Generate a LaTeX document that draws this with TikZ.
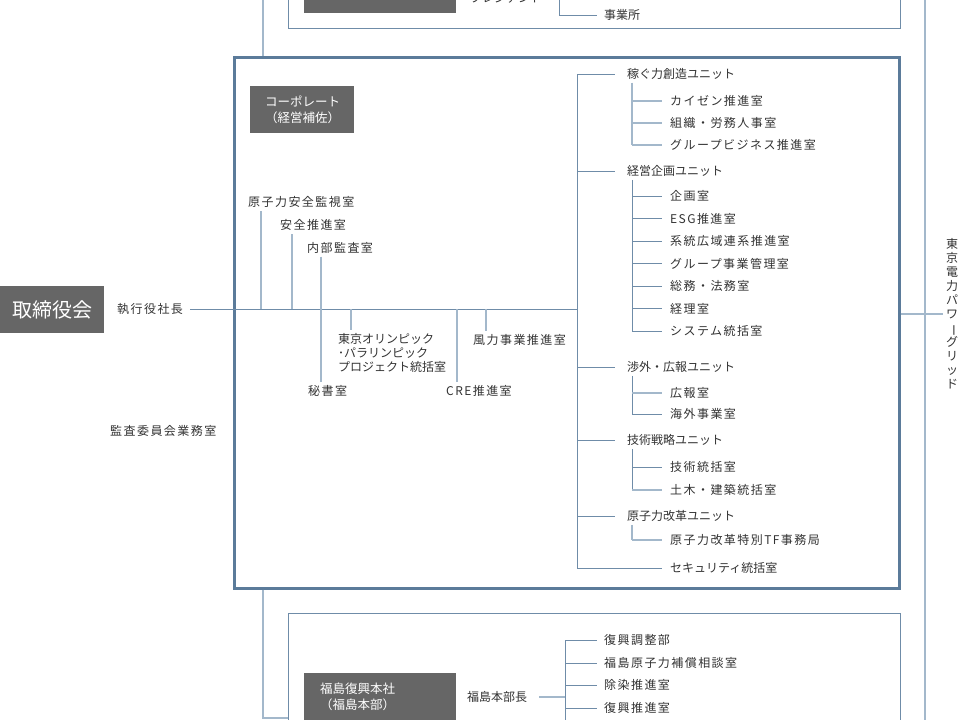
\documentclass[tikz,border=0pt]{standalone}
\usepackage{fontspec}
\setmainfont{Noto Sans CJK JP}
\usetikzlibrary{positioning,calc}
\definecolor{frameblue}{HTML}{5B7B9A}
\definecolor{lineblue}{HTML}{6F8CA8}
\definecolor{lightblue}{HTML}{A3B8CB}
\definecolor{darkbox}{HTML}{666666}
\definecolor{textgray}{HTML}{333333}
\tikzset{
  headbox/.style={fill=darkbox, text=white, align=left, inner xsep=16pt, inner ysep=0pt, text width=120pt, anchor=north west, font=\fontsize{12.5}{16}\selectfont},
  boardbox/.style={fill=darkbox, text=white, inner sep=0pt, minimum width=104pt, minimum height=47pt, anchor=north west, font=\fontsize{20}{24}\selectfont},
  lbl/.style={anchor=west, inner xsep=0pt, inner ysep=3pt, text=textgray, font=\fontsize{12}{14}\selectfont\addfontfeatures{LetterSpace=12}},
  lblk/.style={anchor=west, inner xsep=0pt, inner ysep=3pt, text=textgray, font=\fontsize{12}{14}\selectfont},
  conn/.style={draw=lineblue, line width=1pt},
  connlight/.style={draw=lightblue, line width=1.2pt},
  bigframe/.style={draw=frameblue, line width=2.6pt, inner sep=0pt},
  thinframe/.style={draw=lineblue, line width=1pt, inner sep=0pt}
}

\begin{document}
\begin{tikzpicture}[x=1pt,y=-1pt]
  \useasboundingbox[fill=white] (0,0) rectangle (980,720);
  \clip (0,0) rectangle (980,720);

  % frames
  \node[thinframe, anchor=south west, minimum width=612pt, minimum height=120pt] (pcframe) at (288,29) {};
  \node[bigframe, anchor=north west, minimum width=665pt, minimum height=531pt] (corpframe) at (233,56) {};
  \node[thinframe, anchor=north west, minimum width=612pt, minimum height=150pt] (fkframe) at (288,613) {};

  % head boxes
  \node[headbox, anchor=south west, minimum height=36pt, inner xsep=22pt, text width=108pt] (pchead) at (304,13) {パワーカンパニー};
  \node[lblk] (pcpres) at (470,-2) {プレジデント};
  \node[lblk] (jigyo) at (604,15) {事業所};
  \node[boardbox] (board) at (0,286) {取締役会};
  \node[headbox, inner xsep=15pt, text width=74pt, minimum height=47pt] (corphead) at (250,86) {コーポレート\\（経営補佐）};
  \node[headbox, minimum height=48pt] (fkhead) at (304,673) {福島復興本社\\（福島本部）};

  % left side
  \node[lbl] (pres) at (117,309) {執行役社長};
  \node[lbl] (kansa) at (110,431) {監査委員会業務室};
  \node[lbl] (nsafety) at (248,202) {原子力安全監視室};
  \node[lbl] (safety) at (280,225) {安全推進室};
  \node[lbl] (audit) at (307,248) {内部監査室};
  \node[lbl] (hisho) at (308,391) {秘書室};
  \node[lblk, align=left] (olympic) at (338,353) {東京オリンピック\\･パラリンピック\\プロジェクト統括室};
  \node[lbl] (cre) at (446,391) {CRE推進室};
  \node[lbl] (wind) at (473,340) {風力事業推進室};

  % units
  \node[lblk] (u1) at (627,74) {稼ぐ力創造ユニット};
  \node[lbl] (k1) at (670,101) {カイゼン推進室};
  \node[lbl] (k2) at (670,123) {組織・労務人事室};
  \node[lbl] (k3) at (670,145) {グループビジネス推進室};
  \node[lblk] (u2) at (627,171) {経営企画ユニット};
  \node[lbl] (p1) at (670,196) {企画室};
  \node[lbl] (p2) at (670,218.5) {ESG推進室};
  \node[lbl] (p3) at (670,241) {系統広域連系推進室};
  \node[lbl] (p4) at (670,263.5) {グループ事業管理室};
  \node[lbl] (p5) at (670,286) {総務・法務室};
  \node[lbl] (p6) at (670,308.5) {経理室};
  \node[lbl] (p7) at (670,331) {システム統括室};
  \node[lblk] (u3) at (627,367) {渉外・広報ユニット};
  \node[lbl] (r1) at (670,393) {広報室};
  \node[lbl] (r2) at (670,414) {海外事業室};
  \node[lblk] (u4) at (627,440) {技術戦略ユニット};
  \node[lbl] (s1) at (670,467) {技術統括室};
  \node[lbl] (s2) at (670,490) {土木・建築統括室};
  \node[lblk] (u5) at (627,516) {原子力改革ユニット};
  \node[lbl] (n1) at (670,540) {原子力改革特別TF事務局};
  \node[lblk] (sec) at (670,568) {セキュリティ統括室};

  % fukushima
  \node[lblk] (fkchief) at (467,697) {福島本部長};
  \node[lbl] (f1) at (604,640) {復興調整部};
  \node[lbl] (f2) at (604,663) {福島原子力補償相談室};
  \node[lbl] (f3) at (604,685) {除染推進室};
  \node[lbl] (f4) at (604,708) {復興推進室};

  % right label
  \node[text=textgray, font=\fontsize{12}{14}\selectfont, align=center, inner sep=0pt] (pgrid) at (952,314) {東\\京\\電\\力\\パ\\ワ\\\rotatebox[origin=c]{-90}{ー}\\グ\\リ\\ッ\\ド};

  % rails
  \coordinate (westrail) at (263,0);
  \coordinate (railbend) at (263,718);
  \coordinate (eastrail) at (925,0);
  \draw[connlight, line width=1.6pt] (westrail) -- (westrail |- corpframe.north);
  \draw[connlight, line width=1.6pt] (westrail |- corpframe.south) -- (railbend) -- (railbend -| fkframe.west);
  \draw[connlight] (eastrail) -- ++(0,720);
  \draw[connlight] (corpframe.east |- pgrid) -- ([xshift=-3pt]pgrid.west);

  % top box
  \coordinate (pcspine) at (559,-10);
  \draw[conn] (pcspine) |- ([xshift=-7pt]jigyo.west);

  % executive line
  \coordinate (spine) at (577,0);
  \coordinate (sub) at (632,0);
  \draw[conn] ([xshift=7pt]pres.east) -- (spine |- pres);
  \coordinate (t1) at (261,309);
  \coordinate (t2) at (292,309);
  \coordinate (t3) at (321,309);
  \coordinate (t4) at (351,309);
  \coordinate (t5) at (457,309);
  \coordinate (t6) at (486,309);
  \draw[connlight] (t1) -- (t1 |- nsafety.south);
  \draw[connlight] (t2) -- (t2 |- safety.south);
  \draw[connlight] (t3 |- audit.south) -- (t3 |- hisho.north);
  \draw[connlight] (t4) -- (t4 |- olympic.north);
  \draw[connlight] (t5) -- (t5 |- cre.north);
  \draw[connlight] (t6) -- (t6 |- wind.north);

  % unit tree
  \draw[conn] (spine |- u1) -- (spine |- sec);
  \foreach \u in {u1,u2,u3,u4,u5}
    \draw[conn] (spine |- \u) -- ([xshift=-12pt]\u.west);
  \draw[conn] (spine |- sec) -- ([xshift=-8pt]sec.west);
  \draw[connlight] (sub |- u1.south) -- (sub |- k3);
  \draw[conn] (sub |- u2.south) -- (sub |- p7);
  \draw[conn] (sub |- u3.south) -- (sub |- r2);
  \draw[conn] (sub |- u4.south) -- (sub |- s2);
  \draw[connlight] (sub |- u5.south) -- (sub |- n1);
  \foreach \n in {k1,k2,k3,r1,n1,s2}
    \draw[connlight] (sub |- \n) -- ([xshift=-8pt]\n.west);
  \foreach \n in {p1,p2,p3,p4,p5,p6,p7,r2,s1}
    \draw[conn] (sub |- \n) -- ([xshift=-8pt]\n.west);

  % fukushima tree
  \coordinate (fkspine) at (565,740);
  \draw[conn] (fkspine |- f1) -- (fkspine);
  \draw[connlight] ([xshift=12pt]fkchief.east) -- (fkspine |- fkchief);
  \foreach \n in {f1,f2,f3,f4}
    \draw[conn] (fkspine |- \n) -- ([xshift=-7pt]\n.west);
\end{tikzpicture}
\end{document}
